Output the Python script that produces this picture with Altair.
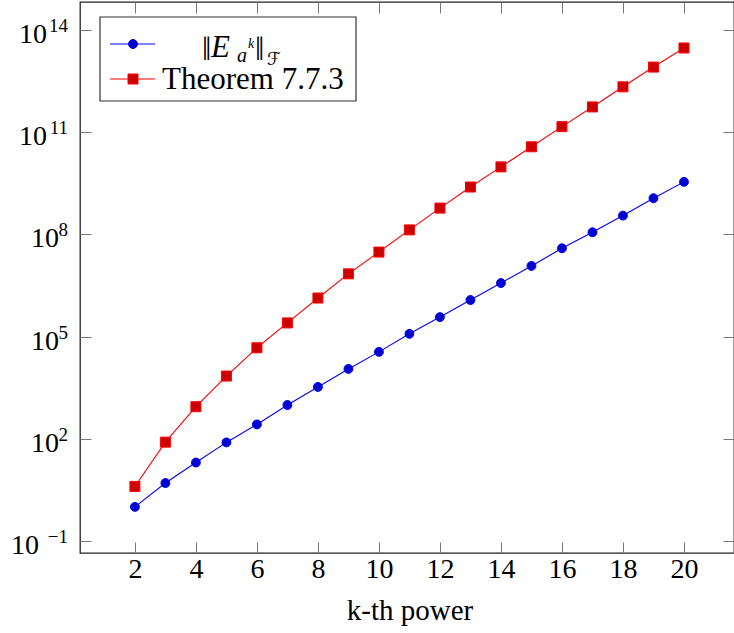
import altair as alt
import pandas as pd

# ---------------- data ----------------
k_vals = list(range(2, 21))
norm_vals = [1.0, 5.0, 20, 78, 263, 977, 3.31e3, 1.12e4, 3.55e4, 1.20e5, 3.72e5,
             1.18e6, 3.72e6, 1.18e7, 3.89e7, 1.15e8, 3.55e8, 1.15e9, 3.47e9]
bound_vals = [3.98, 79.4, 871, 6.92e3, 4.68e4, 2.51e5, 1.35e6, 6.92e6, 3.02e7,
              1.35e8, 5.89e8, 2.45e9, 9.55e9, 3.72e10, 1.45e11, 5.50e11,
              2.14e12, 8.13e12, 2.95e13]
series = ["norm", "Theorem 7.7.3"]
x_ticks = [2, 4, 6, 8, 10, 12, 14, 16, 18, 20]
y_exps = [-1, 2, 5, 8, 11, 14]

FONT = "Liberation Serif, serif"
LINE_COLORS = ["#0000ff", "#ff0000"]
FILL_COLORS = ["#0000cc", "#cc0000"]
TICK_COLOR = "#777777"

df = pd.DataFrame({
    "k": k_vals * 2,
    "v": norm_vals + bound_vals,
    "s": [series[0]] * len(k_vals) + [series[1]] * len(k_vals),
})
y_ticks = [10.0 ** e for e in y_exps]
lab_df = pd.DataFrame({
    "e": y_exps,
    "v": y_ticks,
    "lab": [str(e).replace("-", "\u2212") for e in y_exps],
})
one = pd.DataFrame({"a": [0]})

W, H = 654, 551
xscale = alt.Scale(domain=[0.2, 21.64], nice=False, zero=False)
yscale = alt.Scale(type="log", domain=[10 ** -1.354, 10 ** 14.82], nice=False)

tick_common = dict(offset=-11, tickSize=11, domain=False, grid=False,
                   tickColor=TICK_COLOR, tickWidth=1)

base = alt.Chart(df)

lines = base.mark_line(strokeWidth=1.1).encode(
    x=alt.X("k:Q", scale=xscale,
            axis=alt.Axis(orient="bottom", values=x_ticks, **tick_common,
                          labelFont=FONT, labelFontSize=28, labelColor="black",
                          labelBaseline="alphabetic", labelPadding=24,
                          labelFlush=False, labelOverlap=False,
                          title="k-th power", titleFont=FONT, titleFontSize=29,
                          titleFontWeight="normal", titleColor="black",
                          titleBaseline="alphabetic", titleX=329.5, titleY=77)),
    y=alt.Y("v:Q", scale=yscale,
            axis=alt.Axis(orient="left", values=y_ticks, labels=False,
                          title=None, **tick_common)),
    color=alt.Color("s:N", scale=alt.Scale(domain=series, range=LINE_COLORS),
                    legend=None),
)

points = base.mark_point(filled=True, opacity=1, strokeWidth=1).encode(
    x=alt.X("k:Q", axis=alt.Axis(orient="top", values=x_ticks, labels=False,
                                 title=None, **tick_common)),
    y=alt.Y("v:Q", axis=alt.Axis(orient="right", values=y_ticks, labels=False,
                                 title=None, **tick_common)),
    fill=alt.Fill("s:N", scale=alt.Scale(domain=series, range=FILL_COLORS),
                  legend=None),
    stroke=alt.Stroke("s:N", scale=alt.Scale(domain=series, range=LINE_COLORS),
                      legend=None),
    shape=alt.Shape("s:N", scale=alt.Scale(domain=series,
                                           range=["circle", "square"]),
                    legend=None),
    size=alt.Size("s:N", scale=alt.Scale(domain=series, range=[79, 100]),
                  legend=None),
)

# ---------------- y tick labels (10^e) ----------------
lab_base = alt.Chart(lab_df)
exp_text = lab_base.mark_text(align="right", baseline="alphabetic", dy=2,
                              font=FONT, fontSize=19, color="black").encode(
    y=alt.Y("v:Q", axis=None), x=alt.value(-12), text="lab:N")
ten_two = lab_base.transform_filter("datum.e >= 10").mark_text(
    align="right", baseline="alphabetic", dy=13, font=FONT, fontSize=28,
    color="black", text="10").encode(y=alt.Y("v:Q", axis=None), x=alt.value(-33))
ten_one = lab_base.transform_filter("datum.e >= 0 && datum.e < 10").mark_text(
    align="right", baseline="alphabetic", dy=13, font=FONT, fontSize=28,
    color="black", text="10").encode(y=alt.Y("v:Q", axis=None), x=alt.value(-21))
ten_neg = lab_base.transform_filter("datum.e < 0").mark_text(
    align="right", baseline="alphabetic", dy=13, font=FONT, fontSize=28,
    color="black", text="10").encode(y=alt.Y("v:Q", axis=None), x=alt.value(-41))

# ---------------- legend ----------------
ob = alt.Chart(one)
leg_box = ob.mark_rect(fill="white", stroke="#333333", strokeWidth=1.2).encode(
    x=alt.value(20), x2=alt.value(276), y=alt.value(15), y2=alt.value(99))
leg_l1 = ob.mark_rule(color=LINE_COLORS[0], strokeWidth=1.1).encode(
    x=alt.value(30), x2=alt.value(75), y=alt.value(42))
leg_l2 = ob.mark_rule(color=LINE_COLORS[1], strokeWidth=1.1).encode(
    x=alt.value(30), x2=alt.value(75), y=alt.value(77))
leg_p1 = ob.mark_point(shape="circle", filled=True, size=79, opacity=1,
                       fill=FILL_COLORS[0], stroke=LINE_COLORS[0],
                       strokeWidth=1).encode(x=alt.value(53), y=alt.value(42))
leg_p2 = ob.mark_point(shape="square", filled=True, size=100, opacity=1,
                       fill=FILL_COLORS[1], stroke=LINE_COLORS[1],
                       strokeWidth=1).encode(x=alt.value(53), y=alt.value(77))


def txt(s, x, y, size=28, style="normal", font=FONT):
    return ob.mark_text(text=s, align="left", baseline="alphabetic", font=font,
                        fontSize=size, fontStyle=style, color="black").encode(
        x=alt.value(x), y=alt.value(y))


leg_texts = [
    txt("\u2016", 122, 58, 33),
    txt("E", 131, 55, 31, "italic"),
    txt("a", 157, 60, 20, "italic"),
    txt("k", 168, 46, 14, "italic"),
    txt("\u2016", 175, 58, 33),
    txt("\u2131", 187, 63, 18, "normal", "DejaVu Sans"),
    txt("Theorem 7.7.3", 82, 87, 31),
]

chart = alt.layer(
    lines, points, exp_text, ten_two, ten_one, ten_neg,
    leg_box, leg_l1, leg_l2, leg_p1, leg_p2, *leg_texts
).resolve_axis(x="independent", y="independent").properties(
    width=W, height=H,
    autosize=alt.AutoSizeParams(type="none"),
    padding={"left": 80, "top": 2, "right": 0, "bottom": 80},
    background="white",
).configure_view(stroke="#222222", strokeWidth=1.3)

chart.save("out.html", embed_options={"renderer": "svg", "actions": False})
